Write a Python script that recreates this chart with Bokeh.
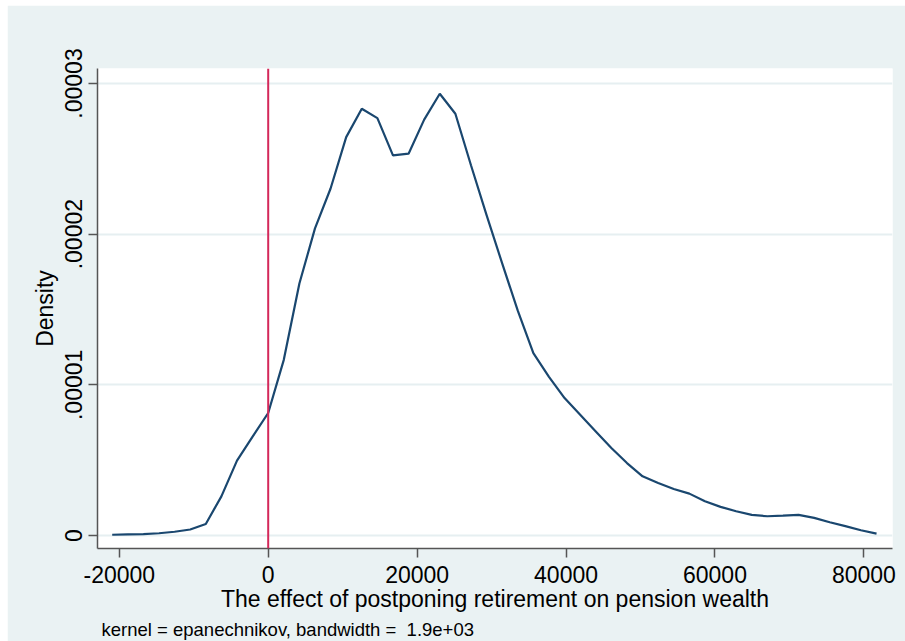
from bokeh.plotting import figure
from bokeh.models import Span, Title, FixedTicker, Range1d
from bokeh.embed import file_html
from bokeh.resources import INLINE

# Kernel density estimate (epanechnikov), 50 evaluation points
x_vals = [-20950, -18855, -16760, -14665, -12570, -10475, -8381, -6286, -4191, -2096,
          -1, 2094, 4189, 6284, 8379, 10474, 12568, 14663, 16758, 18853,
          20948, 23043, 25138, 27233, 29328, 31423, 33517, 35612, 37707, 39802,
          41897, 43992, 46087, 48182, 50277, 52372, 54466, 56561, 58656, 60751,
          62846, 64941, 67036, 69131, 71226, 73321, 75415, 77510, 79605, 81700]
density = [0.05e-6, 0.07e-6, 0.09e-6, 0.15e-6, 0.25e-6, 0.40e-6, 0.77e-6, 2.60e-6, 4.97e-6, 6.56e-6,
           8.13e-6, 11.66e-6, 16.73e-6, 20.38e-6, 23.03e-6, 26.44e-6, 28.32e-6, 27.70e-6, 25.23e-6, 25.34e-6,
           27.60e-6, 29.32e-6, 27.99e-6, 24.57e-6, 21.26e-6, 18.06e-6, 14.92e-6, 12.10e-6, 10.53e-6, 9.12e-6,
           8.01e-6, 6.91e-6, 5.81e-6, 4.81e-6, 3.93e-6, 3.49e-6, 3.09e-6, 2.78e-6, 2.27e-6, 1.90e-6,
           1.61e-6, 1.37e-6, 1.28e-6, 1.32e-6, 1.37e-6, 1.17e-6, 0.88e-6, 0.62e-6, 0.35e-6, 0.13e-6]

x_ticks = [-20000, 0, 20000, 40000, 60000, 80000]
x_tick_labels = ["-20000", "0", "20000", "40000", "60000", "80000"]
y_ticks = [0, 0.00001, 0.00002, 0.00003]
y_tick_labels = ["0", ".00001", ".00002", ".00003"]
ref_line_x = 0

x_title = "The effect of postponing retirement on pension wealth"
y_title = "Density"
# non-breaking space keeps the double gap before the bandwidth value
note_text = "kernel = epanechnikov, bandwidth = \u00a01.9e+03"

BG = "#EAF2F3"
FONT = "Liberation Sans"

p = figure(width=898, height=636,
           x_range=Range1d(-22925, 83843), y_range=Range1d(-8.61e-7, 3.0993e-5),
           output_backend="svg", toolbar_location=None,
           min_border_left=90, min_border_right=13, min_border_top=63, min_border_bottom=92,
           background_fill_color="white", border_fill_color=BG,
           outline_line_color=None)
p.margin = (5, 0, 0, 7)

p.line(x_vals, density, line_color="#1A476F", line_width=2.2)
p.add_layout(Span(location=ref_line_x, dimension="height", line_color="#D4285A", line_width=2))

# axes
p.xaxis.ticker = FixedTicker(ticks=x_ticks)
p.xaxis.major_label_overrides = {t: s for t, s in zip(x_ticks, x_tick_labels)}
p.yaxis.ticker = FixedTicker(ticks=y_ticks)
p.yaxis.major_label_overrides = {t: s for t, s in zip(y_ticks, y_tick_labels)}
p.yaxis.major_label_orientation = "vertical"
p.xaxis.axis_label = x_title
p.yaxis.axis_label = y_title

for ax in (p.xaxis, p.yaxis):
    ax.axis_line_color = "#555555"
    ax.axis_line_width = 1.5
    ax.major_tick_line_color = "#555555"
    ax.major_tick_line_width = 1.5
    ax.major_tick_out = 9
    ax.major_tick_in = 0
    ax.minor_tick_line_color = None
    ax.major_label_text_font = FONT
    ax.major_label_text_font_size = "23px"
    ax.major_label_text_color = "black"
    ax.axis_label_text_font = FONT
    ax.axis_label_text_font_size = "23px"
    ax.axis_label_text_font_style = "normal"
    ax.axis_label_text_color = "black"

p.xaxis.major_label_standoff = 8
p.xaxis.axis_label_standoff = 0
p.yaxis.major_label_standoff = 6
p.yaxis.axis_label_standoff = 5

# grid
p.xgrid.visible = False
p.ygrid.ticker = FixedTicker(ticks=y_ticks)
p.ygrid.grid_line_color = "#E6EFF1"
p.ygrid.grid_line_width = 2

# kernel note under the x-axis title
p.add_layout(Title(text=note_text, align="left", offset=4, standoff=4,
                   text_font=FONT, text_font_size="18.5px", text_font_style="normal",
                   text_color="black"), "below")

open("out.html", "w").write(file_html(p, INLINE))
